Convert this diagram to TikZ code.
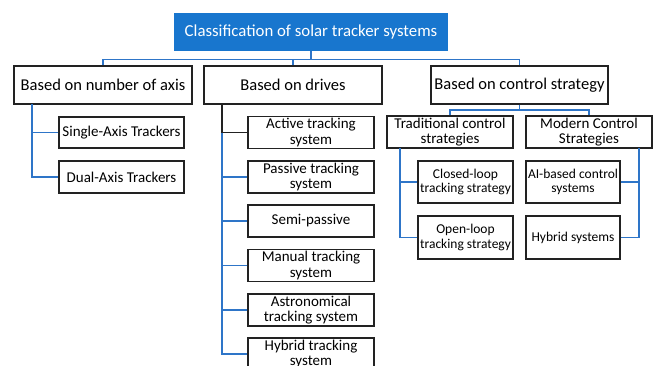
\documentclass[tikz,border=0pt]{standalone}
\usepackage{fontspec}
\setmainfont{Carlito}
\usetikzlibrary{positioning}

\definecolor{titleblue}{RGB}{24,118,206}
\definecolor{lineblue}{RGB}{46,117,200}
\definecolor{boxline}{RGB}{34,34,34}

\begin{document}
\begin{tikzpicture}[x = 1pt, y = -1pt,
  box/.style={draw=boxline, line width=1.4pt, align=center, inner sep=0pt, text=black},
  catbox/.style={box, minimum width=178pt, minimum height=38pt, font=\fontsize{16.5}{18}\selectfont},
  subbox/.style={box, minimum width=126pt, minimum height=32pt, font=\fontsize{15}{15.5}\selectfont},
  leafbox/.style={box, minimum width=95pt, minimum height=42pt, font=\fontsize{13.5}{14.5}\selectfont},
  link/.style={draw=lineblue, line width=1.2pt},
  plain/.style={draw=boxline, line width=1.2pt}]
\clip (0,0) rectangle (657,365);
\useasboundingbox (0,0) rectangle (657,365);
% Title
\node[fill=titleblue, text=white, minimum width=274pt, minimum height=38pt, inner sep=0pt,
  font=\fontsize{16.8}{18}\selectfont] (title) at (311,32) {Classification of solar tracker systems};
% Main categories
\node[catbox] (axis) at (103,85) {Based on number of axis};
\node[catbox] (drives) at (293,85) {Based on drives};
\node[catbox, minimum width=177pt] (control) at (519.5,85) {Based on control strategy};
\coordinate (bus) at (311,59.5);
\draw[link] (title.south) -- (bus);
\draw[link] (axis.north) |- (bus) -| (control.north);
\draw[link] (drives.north) -- (drives.north |- bus);
% Number of axis
\node[subbox, minimum width=125pt, minimum height=31pt] (single) at (121.5,132.5) {Single-Axis Trackers};
\node[subbox, minimum width=125pt] (dual) at (121.5,177) {Dual-Axis Trackers};
\coordinate (axtrunk) at (32,104);
\draw[link] (axtrunk) |- (dual.west);
\draw[link] (single.west) -- (single.west -| axtrunk);
% Drives
\node[subbox] (active) at (311,132.5) {Active tracking\\system};
\node[subbox] (passive) at (311,177) {Passive tracking\\system};
\node[subbox] (semi) at (311,221) {Semi-passive};
\node[subbox] (manual) at (311,265.5) {Manual tracking\\system};
\node[subbox] (astro) at (311,310) {Astronomical\\tracking system};
\node[subbox] (hybridtr) at (311,354) {Hybrid tracking\\system};
\coordinate (drtrunk) at (222,104);
\draw[plain] (drtrunk) |- (active.west);
\draw[link] (active.west -| drtrunk) |- (hybridtr.west);
\foreach \n in {passive,semi,manual,astro}
  \draw[link] (\n.west) -- (\n.west -| drtrunk);
% Control strategy
\node[subbox] (trad) at (450,132) {Traditional control\\strategies};
\node[subbox] (modern) at (589,132) {Modern Control\\Strategies};
\coordinate (ctbus) at (519.5,110);
\draw[link] (control.south) -- (ctbus);
\draw[link] (trad.north) |- (ctbus) -| (modern.north);
\node[leafbox] (closed) at (465.5,182) {Closed-loop\\tracking strategy};
\node[leafbox, minimum height=43pt] (openloop) at (465.5,237.5) {Open-loop\\tracking strategy};
\node[leafbox, minimum width=94pt] (aibased) at (573,182) {AI-based control\\systems};
\node[leafbox, minimum width=94pt, minimum height=43pt] (hybridsys) at (573,237.5) {Hybrid systems};
\coordinate (trtrunk) at (400,148);
\draw[link] (trtrunk) |- (openloop.west);
\draw[link] (closed.west) -- (closed.west -| trtrunk);
\coordinate (mdtrunk) at (639,148);
\draw[link] (mdtrunk) |- (hybridsys.east);
\draw[link] (aibased.east) -- (aibased.east -| mdtrunk);
\end{tikzpicture}
\end{document}
